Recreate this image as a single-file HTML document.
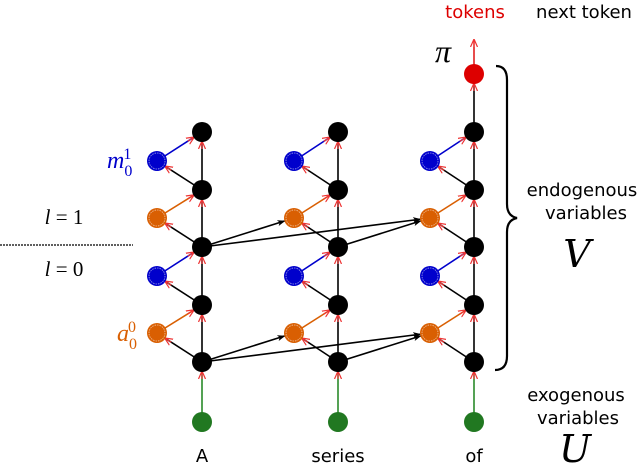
<!DOCTYPE html>
<html><head><meta charset="utf-8"><style>
html,body{margin:0;padding:0;background:#fff;}
svg{display:block;}
.t{font-family:"DejaVu Sans","Liberation Sans",sans-serif;font-size:18px;}
.m{font-family:"Liberation Serif","DejaVu Serif",serif;font-style:italic;}
.c{font-family:"DejaVu Serif","Liberation Serif",serif;font-style:italic;}
</style></head><body>
<svg id="s" width="640" height="470" viewBox="0 0 640 470" xmlns="http://www.w3.org/2000/svg">
<defs>
<marker id="ak" markerWidth="8" markerHeight="8" refX="7" refY="4" orient="auto" markerUnits="userSpaceOnUse"><path d="M0,1 L8,4 L0,7 L2,4 z" fill="#000"/></marker>
<marker id="ar" markerWidth="8" markerHeight="8" refX="7" refY="4" orient="auto" markerUnits="userSpaceOnUse"><path d="M0,0.5 L8,4 L0,7.5 M8,4 L0,4" fill="none" stroke="#e33" stroke-width="1.2"/></marker>
</defs>
<g id="e"></g>
<g id="n"></g>
<line x1="0" y1="245" x2="133" y2="245" stroke="#000" stroke-width="1.2" stroke-dasharray="2,1"/>
<text x="64" y="224" class="m" font-size="21" text-anchor="middle"><tspan>l</tspan><tspan font-style="normal"> = 1</tspan></text>
<text x="64" y="276" class="m" font-size="21" text-anchor="middle"><tspan>l</tspan><tspan font-style="normal"> = 0</tspan></text>
<text x="107" y="168" class="m" font-size="24" fill="#0000cc">m<tspan font-size="16" font-style="normal" dy="8">0</tspan><tspan font-size="16" font-style="normal" dx="-9" dy="-17">1</tspan></text>
<text x="117" y="341" class="m" font-size="24" fill="#d95f02">a<tspan font-size="16" font-style="normal" dy="8">0</tspan><tspan font-size="16" font-style="normal" dx="-9" dy="-17">0</tspan></text>
<text x="443" y="62" class="m" font-size="32" text-anchor="middle">π</text>
<text x="475" y="18" class="t" fill="#dd0000" text-anchor="middle">tokens</text>
<text x="584" y="18" class="t" text-anchor="middle">next token</text>
<text x="582" y="196" class="t" text-anchor="middle">endogenous</text>
<text x="586" y="219" class="t" text-anchor="middle">variables</text>
<text x="577" y="267" class="c" font-size="38" text-anchor="middle">V</text>
<text x="576" y="401" class="t" text-anchor="middle">exogenous</text>
<text x="578" y="424" class="t" text-anchor="middle">variables</text>
<text x="575" y="462" class="c" font-size="38" text-anchor="middle">U</text>
<text x="202" y="462" class="t" text-anchor="middle">A</text>
<text x="338" y="462" class="t" text-anchor="middle">series</text>
<text x="474" y="462" class="t" text-anchor="middle">of</text>
<path d="M496,66 Q507,66 507,80 L507,204 Q507,216 517,218 Q507,220 507,232 L507,356 Q507,370 495,370" fill="none" stroke="#000" stroke-width="2.2"/>
</svg>
<script>
var NS="http://www.w3.org/2000/svg";
var E=document.getElementById("e"),N=document.getElementById("n");
function ln(x1,y1,x2,y2,c,m,w){var l=document.createElementNS(NS,"line");
 var dx=x2-x1,dy=y2-y1,d=Math.sqrt(dx*dx+dy*dy),r=10;
 l.setAttribute("x1",x1);l.setAttribute("y1",y1);l.setAttribute("x2",x2-dx/d*r);l.setAttribute("y2",y2-dy/d*r);
 l.setAttribute("stroke",c);l.setAttribute("stroke-width",w||1.6);
 if(m)l.setAttribute("marker-end","url(#"+m+")");E.appendChild(l);}
function cc(x,y,f,ring){var c=document.createElementNS(NS,"circle");c.setAttribute("cx",x);c.setAttribute("cy",y);c.setAttribute("r",10);c.setAttribute("fill",f);N.appendChild(c);
 if(ring){var c2=document.createElementNS(NS,"circle");c2.setAttribute("cx",x);c2.setAttribute("cy",y);c2.setAttribute("r",8);c2.setAttribute("fill","none");c2.setAttribute("stroke","#fff");c2.setAttribute("stroke-opacity","0.6");c2.setAttribute("stroke-width","0.8");c2.setAttribute("stroke-dasharray","1.5,1");N.appendChild(c2);}}
var cols=[[202,157],[338,294],[474,430]];
var by=[362,305,247,190,132];
var sy=[333,276,218,161];
var sc=["#d95f02","#0000cc","#d95f02","#0000cc"];
ln(202,362,294,333,"#000","ak",1.6);ln(202,362,430,333,"#000","ak",1.6);ln(338,362,430,333,"#000","ak",1.6);
ln(202,247,294,218,"#000","ak",1.6);ln(202,247,430,218,"#000","ak",1.6);ln(338,247,430,218,"#000","ak",1.6);
cols.forEach(function(c,i){var x=c[0],s=c[1];
 ln(x,422,x,by[0],"#2a8a2a","ar",1.6);
 for(var k=0;k<4;k++){ln(x,by[k],x,by[k+1],"#000","ar",1.6);
  ln(x,by[k],s,sy[k],"#000","ar",1.6);ln(s,sy[k],x,by[k+1],sc[k],"ar",1.6);}
 if(i==2){ln(x,by[4],x,74,"#000","ar",1.6);ln(x,74,x,30,"#dd0000","ar",1.4);cc(x,74,"#dd0000");}
 for(var k=0;k<5;k++)cc(x,by[k],"#000");
 for(var k=0;k<4;k++)cc(s,sy[k],sc[k],true);
 cc(x,422,"#217821");
});
</script>
</body></html>
